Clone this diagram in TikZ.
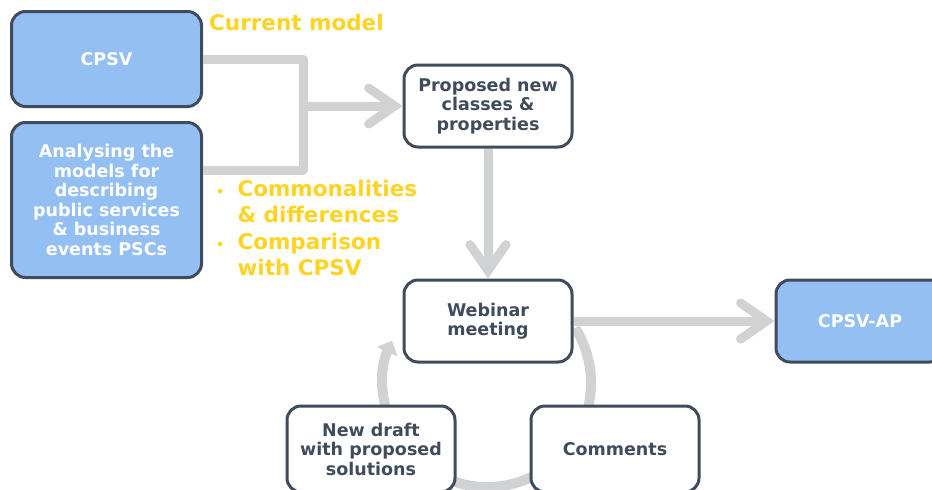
\documentclass[tikz,border=0pt]{standalone}
\usepackage{fontspec}
\setmainfont{DejaVu Sans}
\usetikzlibrary{positioning,calc,arrows.meta}
\definecolor{boxblue}{HTML}{94BFF3}
\definecolor{boxline}{HTML}{404B5C}
\definecolor{flowgray}{HTML}{D1D2D4}
\definecolor{noteyellow}{HTML}{FFD324}

\begin{document}
\begin{tikzpicture}[
	x=1pt, y=-1pt,
	box/.style={draw=boxline, line width=3pt, rounded corners=14pt, fill=white,
		text=boxline, align=center, font=\bfseries\fontsize{17.5}{19.5}\selectfont,
		minimum width=168pt, minimum height=82pt, inner sep=2pt},
	bluebox/.style={box, fill=boxblue, text=white},
	flow/.style={draw=flowgray, line width=9pt},
	chev/.style={-{Straight Barb[length=26pt,width=36pt,line cap=round]}},
	note/.style={text=noteyellow, font=\bfseries\fontsize{21.5}{26.3}\selectfont, inner sep=0pt}]
	\useasboundingbox (0,0) rectangle (932,490);
	% feedback loop, drawn first so the boxes cover it
	\coordinate (loop) at (487,383);
	\draw[draw=flowgray, line width=10pt, -{Triangle[length=12pt,width=22pt]}]
		($(loop)+(-32:104)$) arc[start angle=-32, end angle=204, radius=104];
	% boxes
	\node[bluebox, minimum width=190pt, minimum height=95pt] (cpsv) at (106.5,59) {CPSV};
	\node[bluebox, minimum width=190pt, minimum height=155pt] (ana) at (106.5,200)
		{Analysing the\\models for\\describing\\public services\\\& business\\events PSCs};
	\node[box] (proposed) at (488,106) {Proposed new\\classes \&\\properties};
	\node[box] (webinar) at (488,321) {Webinar\\meeting};
	\node[bluebox] (cpsvap) at (860,321) {CPSV-AP};
	\node[box, minimum height=86pt] (draft) at (371,449) {New draft\\with proposed\\solutions};
	\node[box, minimum height=86pt] (comments) at (615,449) {Comments};
	% notes
	\node[note, anchor=west] (current) at (209,22) {Current model};
	\node[note, anchor=north west] (notes) at (216,178) {%
		\begin{tabular}{@{}l@{\hspace{13pt}}l@{}}
			\fontsize{13}{26}\selectfont\textbullet & Commonalities\\
			& \& differences\\
			\fontsize{13}{26}\selectfont\textbullet & Comparison\\
			& with CPSV
		\end{tabular}};
	% connectors
	\coordinate (join) at (303,106);
	\draw[flow, line join=round] (cpsv.east) -| (join) |- ([yshift=30pt]ana.east);
	\draw[flow, chev] (join) -- (proposed.west);
	\draw[flow, chev] (proposed.south) -- (webinar.north);
	\draw[flow, chev] (webinar.east) -- (cpsvap.west);
\end{tikzpicture}
\end{document}
